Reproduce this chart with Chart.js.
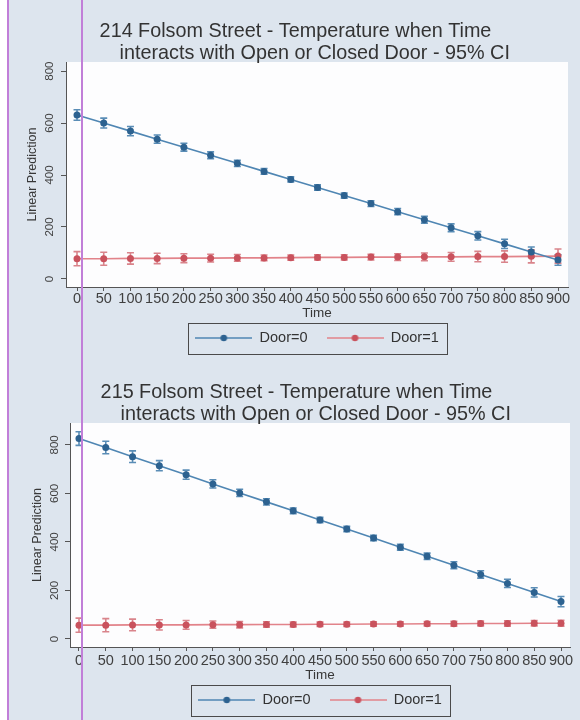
<!DOCTYPE html>
<html>
<head>
<meta charset="utf-8">
<script src="https://cdn.jsdelivr.net/npm/chart.js@4.4.1/dist/chart.umd.min.js"></script>
<style>
  html, body { margin: 0; padding: 0; }
  body { width: 580px; height: 720px; background: #dde5ee; position: relative; overflow: hidden; }
  #margin { position: absolute; left: 0; top: 0; width: 8px; height: 720px; background: #ffffff; }
  .rule { position: absolute; top: 0; width: 2px; height: 720px; background: #c17fd8; z-index: 5; }
  .panel { position: absolute; left: 23px; width: 557px; height: 360px; }
  canvas { display: block; }
</style>
</head>
<body>
<div id="margin"></div>
<div class="panel" style="top:0"><canvas id="c214" width="557" height="360"></canvas></div>
<div class="panel" style="top:360px"><canvas id="c215" width="557" height="360"></canvas></div>
<div class="rule" style="left:7px"></div>
<div class="rule" style="left:81px"></div>

<script>
// ---- data ----
const times = [0, 50, 100, 150, 200, 250, 300, 350, 400, 450, 500, 550, 600, 650, 700, 750, 800, 850, 900];
const xTickValues = [0, 50, 100, 150, 200, 250, 300, 350, 400, 450, 500, 550, 600, 650, 700, 750, 800, 850, 900];
const yTickValues = [0, 200, 400, 600, 800];
const seriesNames = ['Door=0', 'Door=1'];

// 214 Folsom Street: predicted temperature and 95% CI half-widths
const door0Temp214 = [631, 600, 569, 538, 507, 476, 445, 414, 383, 352, 321, 290, 259, 228, 197, 166, 135, 104, 73];
const door1Temp214 = [78, 78, 79, 79, 80, 80, 81, 81, 82, 83, 83, 84, 84, 85, 85, 86, 86, 87, 88];
const door0Ci214 = [20, 19, 18, 16, 15, 13, 12, 11, 10, 10, 10, 11, 12, 13, 15, 16, 18, 19, 20];
const door1Ci214 = [27, 25, 22, 20, 17, 15, 13, 11, 10, 10, 10, 11, 13, 15, 17, 20, 22, 25, 27];

// 215 Folsom Street
const door0Temp215 = [826, 789, 751, 714, 677, 639, 602, 565, 528, 490, 453, 416, 378, 341, 304, 266, 229, 192, 154];
const door1Temp215 = [57, 57, 58, 58, 58, 59, 59, 60, 60, 61, 61, 62, 62, 63, 63, 64, 64, 65, 65];
const door0Ci215 = [28, 26, 24, 21, 19, 17, 15, 13, 12, 11, 11, 11, 12, 13, 14, 15, 17, 19, 21];
const door1Ci215 = [29, 27, 24, 21, 18, 15, 13, 11, 10, 9, 9, 9, 9, 9, 10, 10, 11, 11, 12];

// ---- styling ----
const FONT = '"Liberation Sans", Arial, Helvetica, sans-serif';
Chart.defaults.font.family = FONT;

const blue = { line: '#4f86b3', marker: '#2d6290', bar: '#5a8db6' };
const red  = { line: '#e2838a', marker: '#c9525d', bar: '#d9848b' };

// legend key: a short line with a marker in the middle
function legendKey(colors) {
  const c = document.createElement('canvas');
  c.width = 57; c.height = 10;
  const g = c.getContext('2d');
  g.strokeStyle = colors.line; g.lineWidth = 1.5;
  g.beginPath(); g.moveTo(0, 5); g.lineTo(57, 5); g.stroke();
  g.fillStyle = colors.marker;
  g.beginPath(); g.arc(28.5, 5, 3.3, 0, Math.PI * 2); g.fill();
  return c;
}

// white plot region
const plotBackground = {
  id: 'plotBackground',
  beforeDraw(chart) {
    const { ctx, chartArea: a } = chart;
    ctx.save();
    ctx.fillStyle = '#fdfdfe';
    ctx.fillRect(a.left, a.top, a.right - a.left, a.bottom - a.top);
    ctx.restore();
  }
};

// capped confidence-interval bars, drawn under lines and markers
const ciBars = {
  id: 'ciBars',
  beforeDatasetsDraw(chart) {
    const { ctx, scales: { x, y } } = chart;
    chart.data.datasets.forEach(ds => {
      if (!ds.ci) return;
      ctx.save();
      ctx.strokeStyle = ds.barColor;
      ctx.lineWidth = 1.6;
      ds.data.forEach((p, i) => {
        const px = x.getPixelForValue(p.x);
        const lo = y.getPixelForValue(p.y - ds.ci[i]);
        const hi = y.getPixelForValue(p.y + ds.ci[i]);
        ctx.beginPath();
        ctx.moveTo(px, lo); ctx.lineTo(px, hi);
        ctx.moveTo(px - 3.5, lo); ctx.lineTo(px + 3.5, lo);
        ctx.moveTo(px - 3.5, hi); ctx.lineTo(px + 3.5, hi);
        ctx.stroke();
      });
      ctx.restore();
    });
  }
};

// box around the legend keys
const legendFrame = {
  id: 'legendFrame',
  afterDraw(chart) {
    const boxes = chart.legend && chart.legend.legendHitBoxes;
    if (!boxes || !boxes.length) return;
    const left = Math.min(...boxes.map(b => b.left)) - 7;
    const right = Math.max(...boxes.map(b => b.left + b.width)) + 9;
    const top = boxes[0].top - 8;
    const bottom = boxes[0].top + boxes[0].height + 8;
    const { ctx } = chart;
    ctx.save();
    ctx.strokeStyle = '#4a4a4a';
    ctx.lineWidth = 1;
    ctx.strokeRect(Math.round(left) + 0.5, Math.round(top) + 0.5, Math.round(right - left), Math.round(bottom - top));
    ctx.restore();
  }
};

function buildChart(id, p) {
  const ds = (label, temps, ci, col) => ({
    label,
    data: times.map((t, i) => ({ x: t, y: temps[i] })),
    ci,
    barColor: col.bar,
    legendKey: legendKey(col),
    borderColor: col.line,
    borderWidth: 1.6,
    pointRadius: 3.5,
    pointBackgroundColor: col.marker,
    pointBorderColor: col.marker,
    pointBorderWidth: 0,
    tension: 0
  });

  return new Chart(document.getElementById(id), {
    type: 'line',
    data: {
      datasets: [
        ds(seriesNames[0], p.door0, p.ci0, blue),
        ds(seriesNames[1], p.door1, p.ci1, red)
      ]
    },
    options: {
      responsive: false,
      animation: false,
      events: [],
      layout: { padding: { left: 0, right: p.padRight, top: 0, bottom: p.padBottom } },
      plugins: {
        title: {
          display: true,
          text: p.title,
          color: '#333333',
          font: { size: 19.8, weight: 'normal', lineHeight: '22px' },
          padding: { top: p.titleTop, bottom: -3 }
        },
        legend: {
          position: 'bottom',
          fullSize: false,
          labels: {
            usePointStyle: true,
            pointStyleWidth: 57,
            padding: 19,
            color: '#333333',
            font: { size: 14.5 },
            generateLabels: chart => chart.data.datasets.map((d, i) => ({
              text: d.label,
              pointStyle: d.legendKey,
              fillStyle: 'rgba(0,0,0,0)',
              strokeStyle: 'rgba(0,0,0,0)',
              lineWidth: 0,
              fontColor: '#333333',
              hidden: false,
              datasetIndex: i
            }))
          }
        },
        tooltip: { enabled: false }
      },
      scales: {
        x: {
          type: 'linear',
          min: p.xMin,
          max: p.xMax,
          afterBuildTicks: s => { s.ticks = xTickValues.map(v => ({ value: v })); },
          afterFit: s => { s.height = p.xAxisHeight; },
          grid: { drawOnChartArea: false, drawTicks: true, tickLength: 4, color: '#555555' },
          border: { display: true, color: '#555555', width: 1 },
          ticks: {
            autoSkip: false, minRotation: 0, maxRotation: 0,
            padding: p.xTickPad, color: '#404040',
            font: { size: 14.5, lineHeight: 1.1 }
          },
          title: {
            display: true, text: 'Time', color: '#383838',
            font: { size: 13.5 },
            padding: { top: 0, bottom: p.timeBottom }
          }
        },
        y: {
          type: 'linear',
          min: p.yMin,
          max: p.yMax,
          afterBuildTicks: s => { s.ticks = yTickValues.map(v => ({ value: v })); },
          afterFit: s => { s.width = p.yAxisWidth; },
          grid: { drawOnChartArea: false, drawTicks: true, tickLength: 5, color: '#555555' },
          border: { display: true, color: '#555555', width: 1 },
          ticks: {
            minRotation: 90, maxRotation: 90, crossAlign: 'center',
            padding: p.yTickPad, color: '#404040',
            font: { size: 11.5 }
          },
          title: {
            display: true, text: 'Linear Prediction', color: '#383838',
            font: { size: 12.5 },
            padding: { top: p.yTitlePad, bottom: 0 }
          }
        }
      }
    },
    plugins: [plotBackground, ciBars, legendFrame]
  });
}

buildChart('c214', {
  title: ['214 Folsom Street - Temperature when Time', '       interacts with Open or Closed Door - 95% CI'],
  door0: door0Temp214, door1: door1Temp214, ci0: door0Ci214, ci1: door1Ci214,
  xMin: -20.6, xMax: 918.7, yMin: -31, yMax: 835,
  padRight: 12, padBottom: 4.75, titleTop: 21,
  xAxisHeight: 24.75, xTickPad: 0, timeBottom: -9.25,
  yAxisWidth: 43, yTickPad: 1.5, yTitlePad: 2.5
});

buildChart('c215', {
  title: ['215 Folsom Street - Temperature when Time', '       interacts with Open or Closed Door - 95% CI'],
  door0: door0Temp215, door1: door1Temp215, ci0: door0Ci215, ci1: door1Ci215,
  xMin: -16.8, xMax: 916.8, yMin: -33, yMax: 890,
  padRight: 10, padBottom: 2.75, titleTop: 22,
  xAxisHeight: 26.75, xTickPad: 2, timeBottom: -9.35,
  yAxisWidth: 47, yTickPad: 0.5, yTitlePad: 7.5
});
</script>
</body>
</html>
